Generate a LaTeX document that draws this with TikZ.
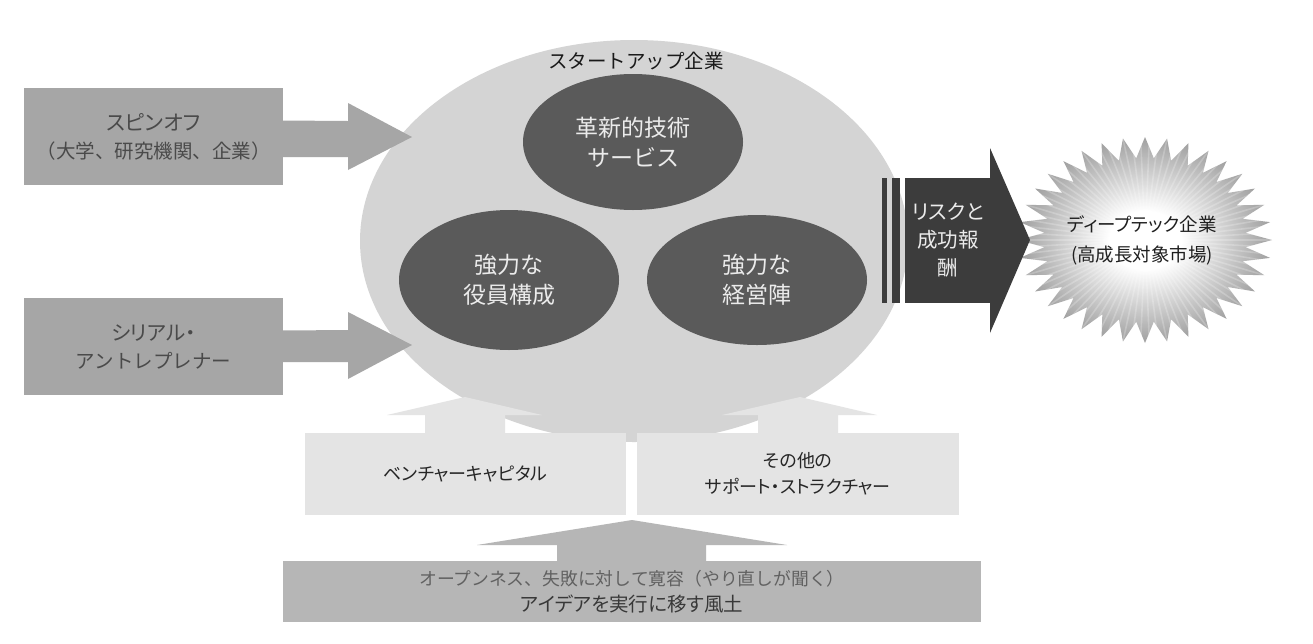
\documentclass[tikz,border=0pt]{standalone}
\usepackage{fontspec}
\setmainfont{Noto Sans CJK JP}
\newfontfamily\pk{Noto Sans CJK JP}[RawFeature=+palt]
\usetikzlibrary{shapes.geometric}
\definecolor{boxgray}{HTML}{A6A6A6}
\definecolor{bigell}{HTML}{D4D4D4}
\definecolor{darkell}{HTML}{5A5A5A}
\definecolor{riskdark}{HTML}{3C3C3C}
\definecolor{lightbox}{HTML}{E4E4E4}
\definecolor{basegray}{HTML}{B6B6B6}
\definecolor{burstmid}{HTML}{A4A4A4}
\definecolor{burstout}{HTML}{7C7C7C}
\definecolor{txtgray}{HTML}{4A4A4A}
\pgfdeclareradialshading{burst}{\pgfpointorigin}{color(0bp)=(white); color(7bp)=(white); color(24bp)=(burstmid); color(40bp)=(burstout); color(50bp)=(burstout)}
\begin{document}
\begin{tikzpicture}[x=1pt,y=-1pt,
  lbox/.style={fill=boxgray, text=txtgray, minimum width=259pt, minimum height=97pt, inner sep=0pt, align=center, font=\fontsize{19.5}{28}\selectfont},
  inell/.style={ellipse, fill=darkell, text=white!92!black, inner sep=0pt, align=center, font=\fontsize{23}{30}\selectfont},
  supbox/.style={fill=lightbox, text=black!85, inner sep=0pt, align=center, font=\fontsize{18}{26}\selectfont\pk}]
\useasboundingbox (0,0) rectangle (1313,643);
\fill[white] (0,0) rectangle (1313,643);

% startup ellipse
\node[ellipse, fill=bigell, minimum width=548pt, minimum height=402pt, inner sep=0pt] (startup) at (634,241) {};
\node[font=\fontsize{19.5}{24}\selectfont, text=black!90] (startlabel) at (636,61) {スタートアップ企業};
\node[inell, minimum width=220pt, minimum height=136pt] (tech) at (633,142) {革新的技術\\サービス};
\node[inell, minimum width=220pt, minimum height=140pt] (board) at (509,280) {強力な\\役員構成};
\node[inell, minimum width=220pt, minimum height=130pt] (mgmt) at (757,280) {強力な\\経営陣};

% left inputs
\node[lbox] (spin) at (153.5,136.5) {{\pk\fontsize{21}{28}\selectfont スピンオフ}\\（大学、研究機関、企業）};
\node[lbox] (serial) at (153.5,346.5) {\pk\fontsize{20.5}{28}\selectfont シリアル・\\アントレプレナー};
\coordinate (spintip) at (412,137);
\coordinate (serialtip) at (412,345);
\fill[boxgray] (spin.east) ++(-1,-16) -- (348,121) -- (348,103) -- (spintip) -- (348,170) -- (348,157) -- ([xshift=-1pt]spin.east |- 0,157) -- cycle;
\fill[boxgray] (serial.east) ++(-1,-16) -- (348,330) -- (348,312) -- (serialtip) -- (348,379) -- (348,362) -- ([xshift=-1pt]serial.east |- 0,362) -- cycle;

% support boxes and up arrows
\node[supbox, minimum width=321pt, minimum height=82pt] (vc) at (465.5,474) {ベンチャーキャピタル};
\node[supbox, minimum width=322pt, minimum height=82pt] (other) at (798,474) {その他の\\サポート・ストラクチャー};
\coordinate (vctip) at (465,397);
\coordinate (othertip) at (800,397);
\fill[lightbox] (425,434) -- (425,415) -- (387,415) -- (vctip) -- (542,415) -- (505,415) -- (505,434) -- cycle;
\fill[lightbox] (758,434) -- (758,415) -- (722,415) -- (othertip) -- (877,415) -- (838,415) -- (838,434) -- cycle;

% culture base
\node[fill=basegray, minimum width=698pt, minimum height=61pt, inner sep=0pt, align=center, font=\fontsize{17.8}{26}\selectfont] (culture) at (632,591.5)
  {\textcolor{black!62}{オープンネス、失敗に対して寛容（やり直しが聞く）}\\\textcolor{black!78}{\pk\fontsize{19.5}{26}\selectfont アイデアを実行に移す風土}};
\coordinate (culturetip) at (632,520);
\fill[basegray] (557,562) -- (557,545) -- (477,545) -- (culturetip) -- (787,545) -- (706,545) -- (706,562) -- cycle;

% starburst
\begin{scope}
\path[clip, shift={(1145,240)}] (0:127 and 103)
  \foreach \a in {0,10,...,350}{ -- (\a+5:101 and 82) -- (\a+10:127 and 103)} -- cycle;
\shade[shading=burst, shift={(1145,240)}] (-128,-104) rectangle (128,104);
\foreach \a in {0,4,...,356}
  \draw[white, opacity=0.22, line width=1.6pt, shift={(1145,240)}] (0,0) -- (\a:127 and 103);
\end{scope}
\node[font=\fontsize{18.5}{30}\selectfont\pk, align=center, text=black!88] (deeptech) at (1142,240) {ディープテック企業\\(高成長対象市場)};

% risk arrow
\fill[riskdark] (882,178) rectangle (887,303);
\fill[riskdark] (892,178) rectangle (900,303);
\node[fill=riskdark, minimum width=86pt, minimum height=125pt, inner sep=0pt, text=white!92!black, align=center, font=\fontsize{20.5}{28}\selectfont\pk] (risk) at (948,240.5) {リスクと\\成功報\\酬};
\fill[riskdark] ([xshift=-1pt]risk.north east) -- (990,148) -- (1030,240) -- (990,333) -- ([xshift=-1pt]risk.south east) -- cycle;
\end{tikzpicture}
\end{document}
